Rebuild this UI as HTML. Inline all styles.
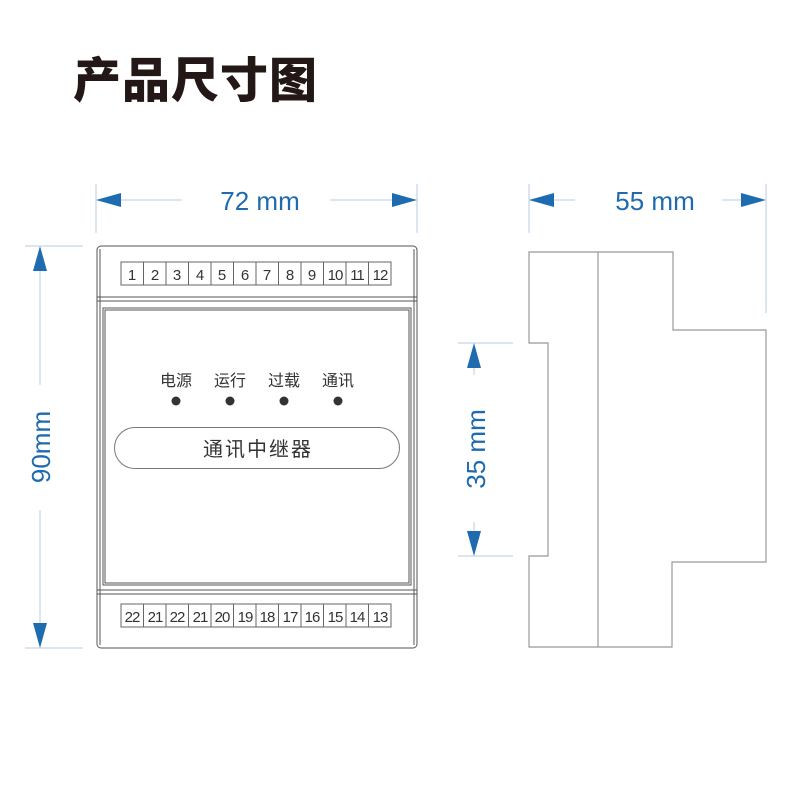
<!DOCTYPE html>
<html><head><meta charset="utf-8"><style>
html,body{margin:0;padding:0;background:#fff}
svg{display:block}
.c{font-family:"Liberation Sans","Noto Sans CJK SC",sans-serif}
</style></head><body>
<svg width="800" height="800" viewBox="0 0 800 800" xmlns="http://www.w3.org/2000/svg">
<text x="73" y="97" class="c" font-size="48" font-weight="900" fill="#231815" letter-spacing="1">产品尺寸图</text>

<g stroke="#b8cbe6" stroke-width="1" fill="none">
<line x1="96" y1="184" x2="96" y2="233"/><line x1="417" y1="184" x2="417" y2="233"/>
<line x1="120" y1="200" x2="182" y2="200"/><line x1="330" y1="200" x2="392" y2="200"/>
<line x1="529" y1="184" x2="529" y2="233"/><line x1="766" y1="184" x2="766" y2="313"/>
<line x1="553" y1="200" x2="575" y2="200"/><line x1="722" y1="200" x2="742" y2="200"/>
<line x1="25" y1="246" x2="83" y2="246"/><line x1="25" y1="648" x2="83" y2="648"/>
<line x1="40" y1="270" x2="40" y2="385"/><line x1="40" y1="510" x2="40" y2="624"/>
<line x1="458" y1="343" x2="513" y2="343"/><line x1="458" y1="556" x2="513" y2="556"/>
<line x1="474" y1="368" x2="474" y2="375"/><line x1="474" y1="522" x2="474" y2="531"/>
</g>
<g fill="#1e6bb0">
<polygon points="96,200 121,193 121,207"/><polygon points="417,200 392,193 392,207"/>
<polygon points="529,200 554,193 554,207"/><polygon points="766,200 741,193 741,207"/>
<polygon points="40,246 33,271 47,271"/><polygon points="40,648 33,623 47,623"/>
<polygon points="474,343 467,368 481,368"/><polygon points="474,556 467,531 481,531"/>
</g>
<g class="c" fill="#1e6bb0" font-size="26">
<text x="260" y="210" text-anchor="middle">72 mm</text>
<text x="655" y="210" text-anchor="middle">55 mm</text>
<text transform="translate(50,447) rotate(-90)" text-anchor="middle">90mm</text>
<text transform="translate(485,449) rotate(-90)" text-anchor="middle">35 mm</text>
</g>

<g fill="none" stroke="#555" stroke-width="1">
<rect x="97" y="246" width="320" height="402" rx="4"/>
<line x1="100" y1="249" x2="100" y2="645"/><line x1="414" y1="249" x2="414" y2="645"/>
<line x1="97" y1="297" x2="417" y2="297"/><line x1="97" y1="301" x2="417" y2="301"/>
<rect x="103" y="308" width="308" height="277"/>
<rect x="105" y="310" width="304" height="273"/>
<line x1="97" y1="590" x2="417" y2="590"/><line x1="97" y1="594" x2="417" y2="594"/>
<rect x="114.5" y="427.5" width="285" height="41" rx="20.5" stroke="#777"/>
</g>
<g fill="none" stroke="#666" stroke-width="1">
<rect x="121" y="262" width="270" height="23"/>
<rect x="121" y="604" width="270" height="23"/>
<path d="M143.5 262v23M166 262v23M188.5 262v23M211 262v23M233.5 262v23M256 262v23M278.5 262v23M301 262v23M323.5 262v23M346 262v23M368.5 262v23"/>
<path d="M143.5 604v23M166 604v23M188.5 604v23M211 604v23M233.5 604v23M256 604v23M278.5 604v23M301 604v23M323.5 604v23M346 604v23M368.5 604v23"/>
</g>
<g class="c" font-size="15" fill="#333" text-anchor="middle">
<text x="132" y="280">1</text><text x="155" y="280">2</text><text x="177" y="280">3</text><text x="200" y="280">4</text><text x="222" y="280">5</text><text x="245" y="280">6</text><text x="267" y="280">7</text><text x="290" y="280">8</text><text x="312" y="280">9</text><text x="335" y="280" letter-spacing="-1">10</text><text x="357" y="280" letter-spacing="-1">11</text><text x="380" y="280" letter-spacing="-1">12</text>
<g letter-spacing="-1">
<text x="132" y="622">22</text><text x="155" y="622">21</text><text x="177" y="622">22</text><text x="200" y="622">21</text><text x="222" y="622">20</text><text x="245" y="622">19</text><text x="267" y="622">18</text><text x="290" y="622">17</text><text x="312" y="622">16</text><text x="335" y="622">15</text><text x="357" y="622">14</text><text x="380" y="622">13</text>
</g>
</g>
<g class="c" font-size="16" fill="#333" text-anchor="middle">
<text x="176" y="386">电源</text><text x="230" y="386">运行</text><text x="284" y="386">过载</text><text x="338" y="386">通讯</text>
<text x="258" y="456" font-size="20" letter-spacing="2">通讯中继器</text>
</g>
<g fill="#333"><circle cx="176" cy="401" r="4.5"/><circle cx="230" cy="401" r="4.5"/><circle cx="284" cy="401" r="4.5"/><circle cx="338" cy="401" r="4.5"/></g>

<g fill="none" stroke="#999" stroke-width="1.2">
<path d="M529 252H673V330H766V562H672V647H529V556H548V343H529Z"/>
<line x1="598" y1="252" x2="598" y2="647"/>
</g>
</svg>
</body></html>
